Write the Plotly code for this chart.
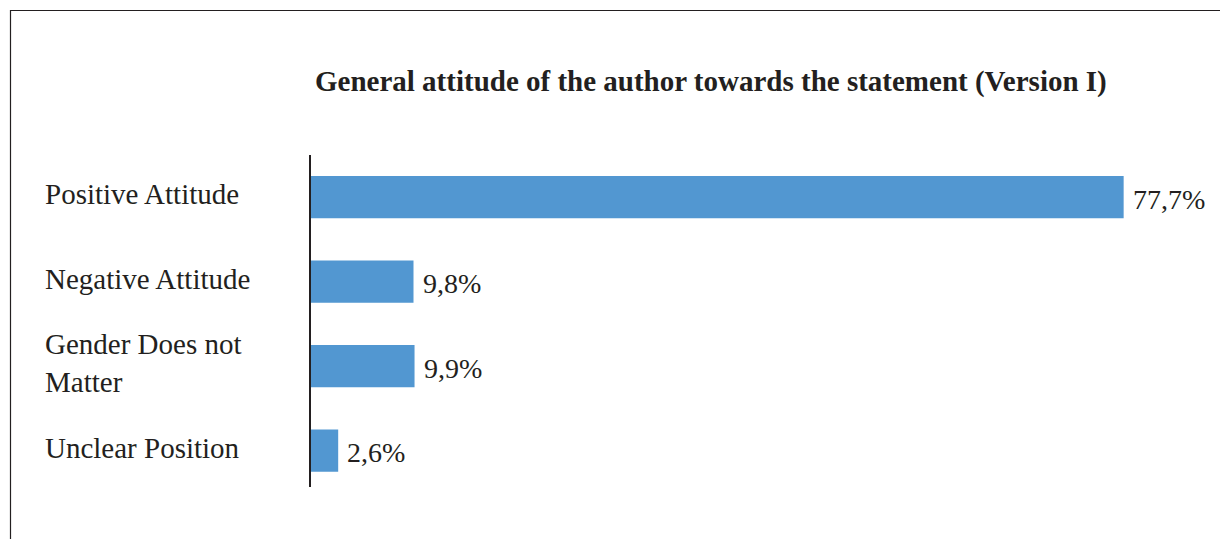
import plotly.graph_objects as go

categories = ["Positive Attitude", "Negative Attitude", "Gender Does not<br>Matter", "Unclear Position"]
values = [77.7, 9.8, 9.9, 2.6]
value_labels = ["77,7%", "9,8%", "9,9%", "2,6%"]
title_text = "General attitude of the author towards the statement (Version I)"

W, H = 1228, 539
OFF = 8  # page body margin offset
ML, MR, MT, MB = 311 - OFF, 28 + OFF, 155 - OFF, 52 + OFF
pw = W - ML - MR
ph = H - MT - MB

def px2paper_x(px):
    return (px - OFF - ML) / pw

def py2paper_y(py):
    return (H - MB - (py - OFF)) / ph

FONT = "Liberation Serif, Times New Roman, serif"
ids = list(range(len(categories)))

fig = go.Figure()
fig.add_trace(go.Bar(
    x=values, y=ids, orientation="h",
    marker=dict(color="#5297D1", line=dict(width=0)),
    width=0.5, hoverinfo="skip",
))

annotations = []
for i, (c, v, lab) in enumerate(zip(categories, values, value_labels)):
    annotations.append(dict(
        x=px2paper_x(43), xref="paper", y=i, yref="y",
        text=c, showarrow=False, xanchor="left", align="left", yshift=3,
        font=dict(family=FONT, size=29, color="#231f20"),
    ))
    annotations.append(dict(
        x=v, xref="x", y=i, yref="y", text=lab, showarrow=False,
        xanchor="left", xshift=7, yshift=-2,
        font=dict(family=FONT, size=28, color="#231f20"),
    ))
annotations.append(dict(
    x=px2paper_x(711), xref="paper", y=py2paper_y(82), yref="paper",
    text="<b>" + title_text + "</b>", showarrow=False, xanchor="center", yanchor="middle",
    font=dict(family=FONT, size=29, color="#231f20"),
))

fig.update_layout(
    width=W, height=H,
    margin=dict(l=ML, r=MR, t=MT, b=MB, pad=0),
    paper_bgcolor="white", plot_bgcolor="white",
    showlegend=False,
    xaxis=dict(range=[0, 85], visible=False, fixedrange=True),
    yaxis=dict(range=[3.43, -0.5], showticklabels=False, showgrid=False, zeroline=False,
               showline=True, linecolor="#231f20", linewidth=2, ticks="", fixedrange=True),
    annotations=annotations,
    shapes=[dict(type="rect", xref="paper", yref="paper",
                 x0=px2paper_x(10.5), x1=px2paper_x(1260),
                 y0=py2paper_y(580), y1=py2paper_y(10.5),
                 line=dict(color="#231f20", width=1.2), fillcolor="rgba(0,0,0,0)", layer="below")],
)

fig.write_html("out.html", config={"displayModeBar": False})
